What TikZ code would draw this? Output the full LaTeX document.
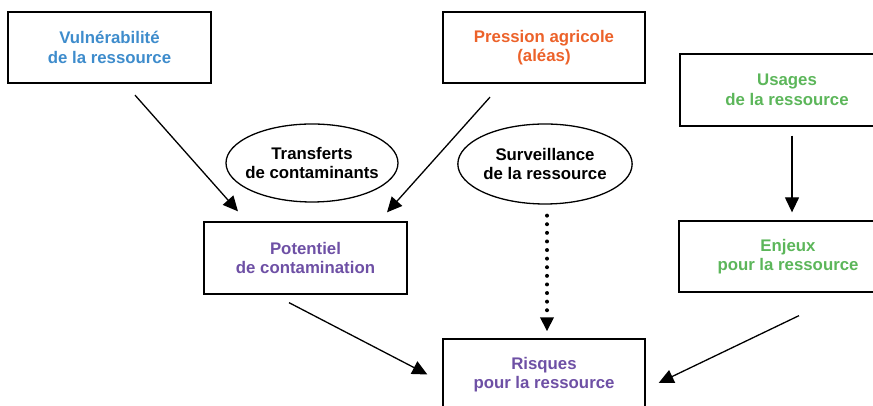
\documentclass[tikz,border=0pt]{standalone}
\usepackage{fontspec}
\setmainfont{Liberation Sans}
\usetikzlibrary{shapes.geometric,arrows.meta}

\definecolor{bleu}{RGB}{62,140,204}
\definecolor{orange}{RGB}{236,98,42}
\definecolor{vert}{RGB}{92,182,90}
\definecolor{violet}{RGB}{110,80,165}

\begin{document}
\begin{tikzpicture}[x=1pt,y=1pt,
	every node/.style={align=center,font=\fontsize{16.8}{19.5}\selectfont\bfseries},
	boite/.style={draw,line width=1.3pt,minimum height=71pt,inner sep=0pt},
	bulle/.style={draw,ellipse,line width=1.3pt,minimum width=172pt,minimum height=78pt,inner sep=0pt},
	fleche/.style={line width=1.3pt,-{Triangle[length=15pt,width=14pt]}},
	pointille/.style={line width=4pt,line cap=round,dash pattern=on 0pt off 8.6pt,-{Triangle[length=14pt,width=13pt]}}
	]
\useasboundingbox (0,0) rectangle (873,406);

\node[boite,minimum width=203pt,text=bleu] (vul) at (109.5,358.5) {Vulnérabilité\\de la ressource};
\node[boite,minimum width=202pt,text=orange] (pre) at (544,358.5) {Pression agricole\\(aléas)};
\node[boite,minimum width=214pt,minimum height=72pt,text=vert] (usa) at (787,316) {Usages\\de la ressource};
\node[boite,minimum width=203pt,minimum height=72pt,text=violet] (pot) at (305.5,148) {Potentiel\\de contamination};
\node[boite,minimum width=218pt,text=vert] (enj) at (788,149.5) {Enjeux\\pour la ressource};
\node[boite,minimum width=202pt,text=violet] (ris) at (544,31.5) {Risques\\pour la ressource};

\node[bulle,inner xsep=-6pt] (tra) at (312,243) {Transferts\\de contaminants};
\node[bulle,minimum width=174pt,minimum height=80pt] (sur) at (545,242) {Surveillance\\de la ressource};

\draw[fleche] ([shift={(25.5,-11.5)}]vul.south) -- ([shift={(-67.5,10)}]pot.north);
\draw[fleche] ([shift={(-54,-13.5)}]pre.south) -- ([shift={(81.5,9)}]pot.north);
\draw[fleche] ([shift={(5,-9)}]usa.south) -- ([shift={(4,8)}]enj.north);
\draw[pointille] ([shift={(2,-11)}]sur.south) -- ([shift={(3,7)}]ris.north);
\draw[fleche] ([shift={(-16.5,-8)}]pot.south) -- ([shift={(-15,0)}]ris.west);
\draw[fleche] ([shift={(11,-23)}]enj.south) -- ([shift={(13,-8.5)}]ris.east);

\end{tikzpicture}
\end{document}
